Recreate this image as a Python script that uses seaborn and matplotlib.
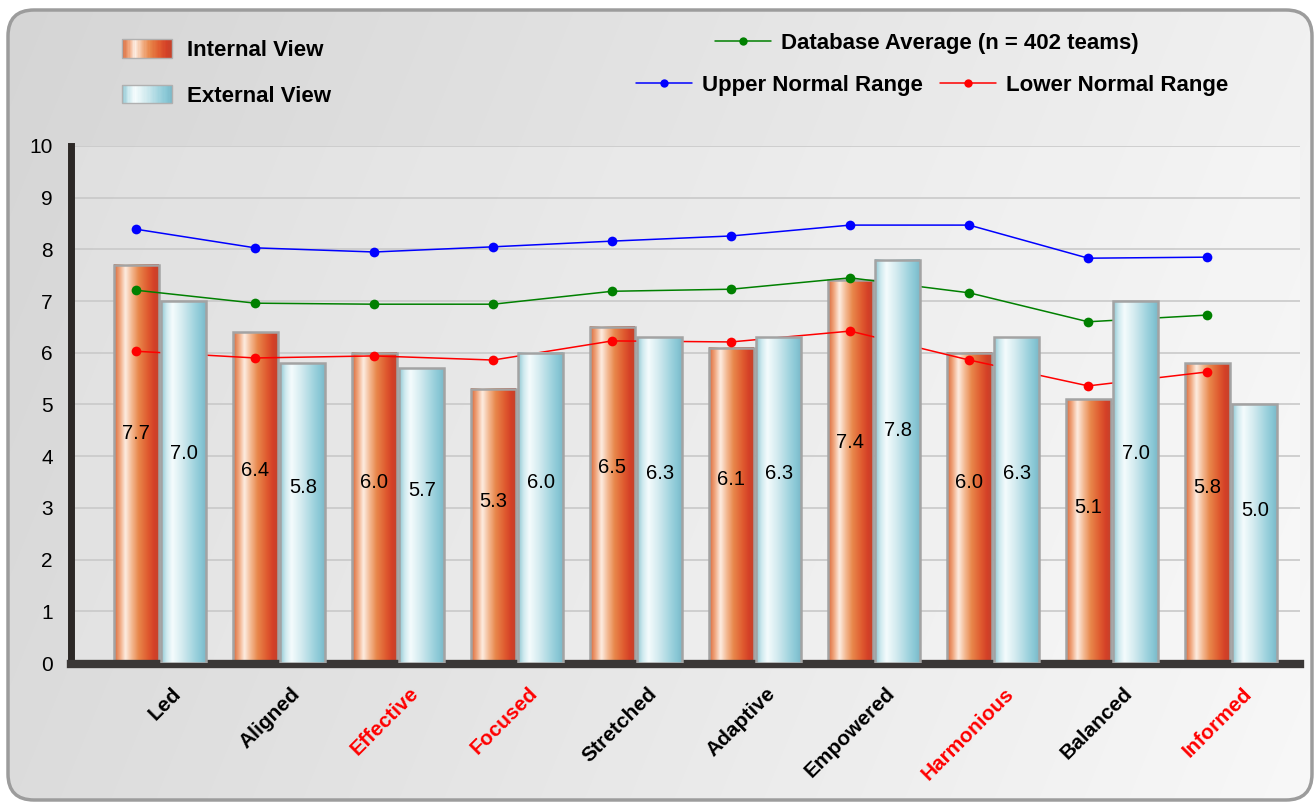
import numpy as np
import pandas as pd
import matplotlib
matplotlib.use('Agg')
import matplotlib.pyplot as plt
import seaborn as sns
from matplotlib.colors import LinearSegmentedColormap
from matplotlib.patches import FancyBboxPatch, Rectangle
from matplotlib.lines import Line2D
from matplotlib.legend_handler import HandlerBase
import matplotlib.transforms as mtransforms

# data
categories = ['Led', 'Aligned', 'Effective', 'Focused', 'Stretched',
              'Adaptive', 'Empowered', 'Harmonious', 'Balanced', 'Informed']
red_labels = ['Effective', 'Focused', 'Harmonious', 'Informed']
internal_view = [7.7, 6.4, 6.0, 5.3, 6.5, 6.1, 7.4, 6.0, 5.1, 5.8]
external_view = [7.0, 5.8, 5.7, 6.0, 6.3, 6.3, 7.8, 6.3, 7.0, 5.0]
database_avg = [7.21, 6.96, 6.94, 6.94, 7.19, 7.23, 7.45, 7.16, 6.60, 6.73]
upper_range = [8.39, 8.03, 7.95, 8.05, 8.16, 8.26, 8.47, 8.47, 7.83, 7.85]
lower_range = [6.03, 5.90, 5.94, 5.86, 6.23, 6.21, 6.42, 5.86, 5.36, 5.63]

df = pd.DataFrame({
    'category': categories * 2,
    'view': ['Internal View'] * len(categories) + ['External View'] * len(categories),
    'score': internal_view + external_view,
})

sns.set_theme(style='white')
plt.rcParams['font.family'] = ['Liberation Sans', 'DejaVu Sans']
plt.rcParams['text.color'] = 'black'
plt.rcParams['legend.labelcolor'] = 'black'

# cylinder-like gradients for the bars
orange_cmap = LinearSegmentedColormap.from_list('orange', [
    (0.0, '#d8693c'), (0.12, '#f0a47a'), (0.25, '#fdeee3'), (0.40, '#f3b68e'),
    (0.55, '#e8874b'), (0.75, '#e05c30'), (0.90, '#d44027'), (1.0, '#c4432c')])
teal_cmap = LinearSegmentedColormap.from_list('teal', [
    (0.0, '#8ec6d2'), (0.12, '#cfeaef'), (0.25, '#f5fcfd'), (0.50, '#cfe9ee'),
    (0.75, '#a0d3de'), (0.90, '#88c7d5'), (1.0, '#7cb9c8')])

fig = plt.figure(figsize=(13.15, 8.05), dpi=100)

# rounded grey panel behind everything
bg = fig.add_axes([0, 0, 1, 1], zorder=-5)
bg.set_xlim(0, 1315)
bg.set_ylim(805, 0)
bg.axis('off')
panel = FancyBboxPatch((8, 10), 1304, 790, boxstyle='round,pad=0,rounding_size=26',
                       facecolor='none', edgecolor='#9c9c9c', linewidth=2.5, zorder=2)
bg.add_patch(panel)
gx, gy = np.meshgrid(np.linspace(0, 1, 300), np.linspace(0, 1, 200))
shade = 0.80 * gx + 0.20 * gy
img = bg.imshow(shade, extent=(0, 1315, 805, 0), cmap=LinearSegmentedColormap.from_list(
    'panel', ['#d5d5d5', '#e6e6e6', '#f8f8f8']), aspect='auto', zorder=1, interpolation='bilinear')
img.set_clip_path(panel)

# main axes
ax = fig.add_axes([71 / 1315, 142 / 805, 1229 / 1315, 517 / 805])
ax.set_facecolor((1, 1, 1, 0.22))

sns.barplot(data=df, x='category', y='score', hue='view', order=categories,
            hue_order=['Internal View', 'External View'], palette=['#e07040', '#9fd3de'],
            width=0.8, gap=0.06, legend=False, ax=ax)

for cont, cmap, z in [(ax.containers[0], orange_cmap, 2), (ax.containers[1], teal_cmap, 4)]:
    for p in cont:
        x0, w, h = p.get_x(), p.get_width(), p.get_height()
        ax.imshow(np.linspace(0, 1, 64).reshape(1, -1), extent=(x0, x0 + w, 0, h),
                  cmap=cmap, aspect='auto', zorder=z, interpolation='bicubic')
        p.set_facecolor('none')
        p.set_edgecolor('#a3a3a3')
        p.set_linewidth(1.8)
        p.set_zorder(z + 0.1)
        ax.text(x0 + w / 2, 0.55 * h + 0.2, f'{h:.1f}', ha='center', va='center',
                fontsize=14.5, color='black', zorder=6)

# lines anchored at the centre of the internal bars
centers = [p.get_x() + p.get_width() / 2 for p in ax.containers[0]]
for vals, col in [(upper_range, 'blue'), (database_avg, 'green'), (lower_range, 'red')]:
    sns.lineplot(x=centers, y=vals, color=col, marker='o', markersize=7, markeredgewidth=0,
                 linewidth=1.1, legend=False, ax=ax, zorder=3)

ax.set_xlim(-0.748, 9.58)
ax.set_ylim(0, 10)
ax.set_yticks(range(0, 11))
ax.yaxis.grid(True, color='#c9c9c9', linewidth=1.2)
ax.set_axisbelow(True)
ax.set_xlabel('')
ax.set_ylabel('')

for s in ['top', 'right']:
    ax.spines[s].set_visible(False)
ax.spines['left'].set_color('#2c2826')
ax.spines['left'].set_linewidth(5)
ax.spines['bottom'].set_color('#3a3736')
ax.spines['bottom'].set_linewidth(6)
ax.spines['bottom'].set_position(('outward', 1))

ax.tick_params(axis='y', length=0, pad=13, labelsize=15, labelcolor='black')
ax.tick_params(axis='x', length=0, pad=14)
ax.set_xticks(range(len(categories)))
ax.set_xticklabels(categories, rotation=45, ha='right', rotation_mode='anchor',
                   fontsize=15, fontweight='bold')
offset = mtransforms.ScaledTranslation(11 / 100, 0, fig.dpi_scale_trans)
for lab in ax.get_xticklabels():
    lab.set_transform(lab.get_transform() + offset)
    lab.set_color('red' if lab.get_text() in red_labels else 'black')


# legends
class GradientHandler(HandlerBase):
    def __init__(self, cmap, n=40):
        super().__init__()
        self.cmap = cmap
        self.n = n

    def create_artists(self, legend, orig_handle, xdescent, ydescent, width, height, fontsize, trans):
        arts = []
        for i in range(self.n):
            arts.append(Rectangle((-xdescent + width * i / self.n, -ydescent), width / self.n * 1.1, height,
                                  facecolor=self.cmap(i / (self.n - 1)), edgecolor='none', transform=trans))
        arts.append(Rectangle((-xdescent, -ydescent), width, height, facecolor='none',
                              edgecolor='#b0b0b0', linewidth=1, transform=trans))
        return arts


bold = {'weight': 'bold', 'size': 16}
h_int, h_ext = Rectangle((0, 0), 1, 1), Rectangle((0, 1), 1, 1)
fig.legend([h_int, h_ext], ['Internal View', 'External View'],
           handler_map={h_int: GradientHandler(orange_cmap), h_ext: GradientHandler(teal_cmap)},
           loc='center left', bbox_to_anchor=(122 / 1315, 1 - 73 / 805), frameon=False, prop=bold,
           borderpad=0, borderaxespad=0, handlelength=2.25, handleheight=0.9, handletextpad=0.68,
           labelspacing=1.05)


def line_handle(col):
    return Line2D([], [], color=col, marker='o', markersize=6, markeredgewidth=0, linewidth=1.1)


fig.legend([line_handle('green')], ['Database Average (n = 402 teams)'],
           loc='center left', bbox_to_anchor=(715 / 1315, 1 - 43 / 805), frameon=False, prop=bold,
           borderpad=0, borderaxespad=0, handlelength=2.5, handletextpad=0.45)
fig.legend([line_handle('blue'), line_handle('red')], ['Upper Normal Range', 'Lower Normal Range'],
           loc='center left', bbox_to_anchor=(636 / 1315, 1 - 85 / 805), frameon=False, prop=bold,
           ncol=2, borderpad=0, borderaxespad=0, handlelength=2.5, handletextpad=0.45,
           columnspacing=0.8)

fig.savefig('out.png', dpi=100)
